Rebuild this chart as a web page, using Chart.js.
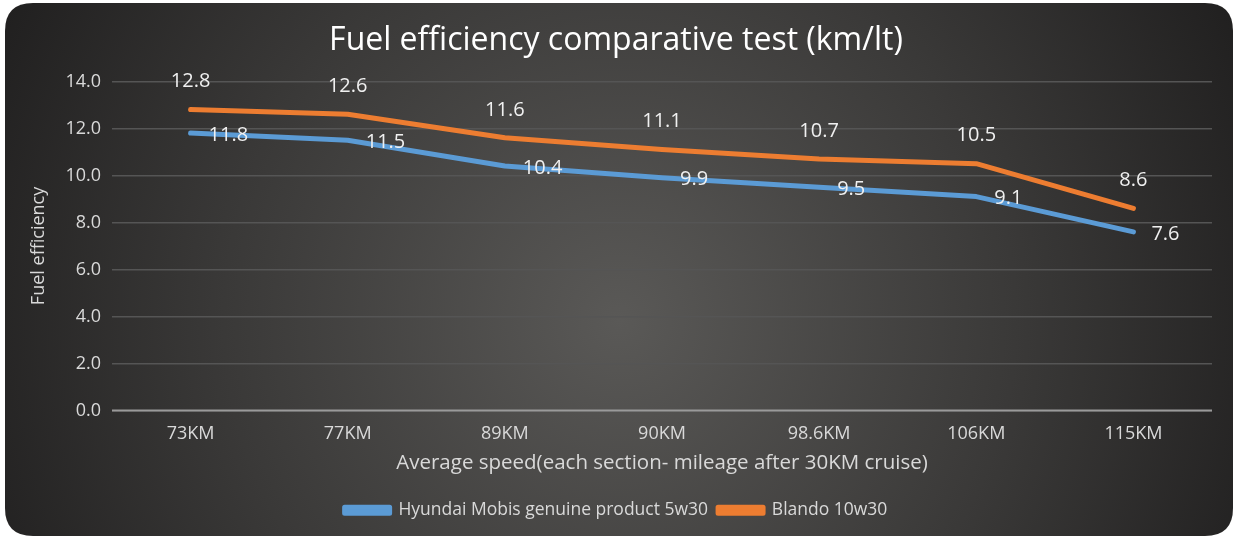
<!DOCTYPE html>
<html><head><meta charset="utf-8">
<script src="https://cdn.jsdelivr.net/npm/chart.js@4/dist/chart.umd.min.js"></script>
<style>html,body{margin:0;padding:0;background:#fff;}#wrap{width:1235px;height:536px;position:relative;}</style>
</head><body><div id="wrap"><canvas id="c" width="1235" height="536"></canvas></div>
<script>
const categories = ['73KM','77KM','89KM','90KM','98.6KM','106KM','115KM'];
const mobisValues = [11.8, 11.5, 10.4, 9.9, 9.5, 9.1, 7.6];
const blandoValues = [12.8, 12.6, 11.6, 11.1, 10.7, 10.5, 8.6];
const seriesNames = ['Hyundai Mobis genuine product 5w30', 'Blando 10w30'];
const yTicks = {min: 0, max: 14, step: 2};

const FONT = "'Open Sans', 'Noto Sans', sans-serif";
const TXT = '#d9d9d9';

const bgPlugin = {
  id: 'bg',
  beforeDraw(chart) {
    const ctx = chart.ctx;
    const x0 = 5, y0 = 3, x1 = 1233, y1 = 536, r = 28;
    ctx.save();
    ctx.beginPath();
    ctx.moveTo(x0 + r, y0);
    ctx.lineTo(x1 - r, y0);
    ctx.quadraticCurveTo(x1, y0, x1, y0 + r);
    ctx.lineTo(x1, y1 - r);
    ctx.quadraticCurveTo(x1, y1, x1 - r, y1);
    ctx.lineTo(x0 + r, y1);
    ctx.quadraticCurveTo(x0, y1, x0, y1 - r);
    ctx.lineTo(x0, y0 + r);
    ctx.quadraticCurveTo(x0, y0, x0 + r, y0);
    ctx.closePath();
    const g = ctx.createRadialGradient(620, 320, 0, 620, 320, 720);
    g.addColorStop(0, '#5a5957');
    g.addColorStop(0.55, '#3a3938');
    g.addColorStop(1, '#1e1d1d');
    ctx.fillStyle = g;
    ctx.fill();
    ctx.restore();
  }
};

const labelPlugin = {
  id: 'vlabels',
  afterDatasetsDraw(chart) {
    const ctx = chart.ctx;
    ctx.save();
    ctx.font = "20px " + FONT;
    ctx.fillStyle = '#f0f0f0';
    chart.data.datasets.forEach((ds, i) => {
      const meta = chart.getDatasetMeta(i);
      meta.data.forEach((pt, j) => {
        const v = ds.data[j].toFixed(1);
        ctx.textBaseline = 'middle';
        if (i === 0) {
          ctx.textAlign = 'left';
          ctx.fillText(v, pt.x + 18, pt.y + 2);
        } else {
          ctx.textAlign = 'center';
          ctx.fillText(v, pt.x, pt.y - 28);
        }
      });
    });
    ctx.restore();
  }
};

new Chart(document.getElementById('c'), {
  type: 'line',
  data: {
    labels: categories,
    datasets: [
      {label: seriesNames[0], data: mobisValues, borderColor: '#5b9bd5', backgroundColor: '#5b9bd5', borderWidth: 5, pointRadius: 0, tension: 0, borderCapStyle: 'round', borderJoinStyle: 'round'},
      {label: seriesNames[1], data: blandoValues, borderColor: '#ed7d31', backgroundColor: '#ed7d31', borderWidth: 5, pointRadius: 0, tension: 0, borderCapStyle: 'round', borderJoinStyle: 'round'}
    ]
  },
  options: {
    responsive: false,
    animation: false,
    events: [],
    layout: {padding: {left: 20, right: 23, top: 0, bottom: 7}},
    plugins: {
      title: {display: true, text: 'Fuel efficiency comparative test (km/lt)', color: '#ffffff', font: {family: FONT, size: 32, weight: 'normal'}, padding: {top: 22, bottom: 21}},
      legend: {position: 'bottom', labels: {color: TXT, font: {family: FONT, size: 17.5}, boxWidth: 45, boxHeight: 6, padding: 10}},
      tooltip: {enabled: false}
    },
    scales: {
      x: {
        offset: true,
        grid: {display: false, drawTicks: false, offset: true},
        border: {display: false},
        ticks: {color: TXT, font: {family: FONT, size: 18}, padding: 13},
        title: {display: true, text: 'Average speed(each section- mileage after 30KM cruise)', color: TXT, font: {family: FONT, size: 20.5}, padding: {top: 4, bottom: 16}},
        afterFit(s) { s.height = 81; }
      },
      y: {
        min: yTicks.min, max: yTicks.max,
        grid: {color: '#555555', lineWidth: 1.5, drawTicks: false},
        border: {display: false},
        ticks: {stepSize: yTicks.step, color: TXT, font: {family: FONT, size: 18}, padding: 11, callback: v => v.toFixed(1)},
        title: {display: true, text: 'Fuel efficiency', color: TXT, font: {family: FONT, size: 18}, padding: {top: 8, bottom: 0}},
        afterFit(s) { s.width = 92; }
      }
    }
  },
  plugins: [bgPlugin, labelPlugin, {
    id: 'axisline',
    beforeDatasetsDraw(chart) {
      const ctx = chart.ctx, a = chart.chartArea, y = chart.scales.y.getPixelForValue(0);
      ctx.save(); ctx.strokeStyle = '#9a9a9a'; ctx.lineWidth = 2;
      ctx.beginPath(); ctx.moveTo(a.left, y); ctx.lineTo(a.right, y); ctx.stroke(); ctx.restore();
    }
  }]
});
</script></body></html>
